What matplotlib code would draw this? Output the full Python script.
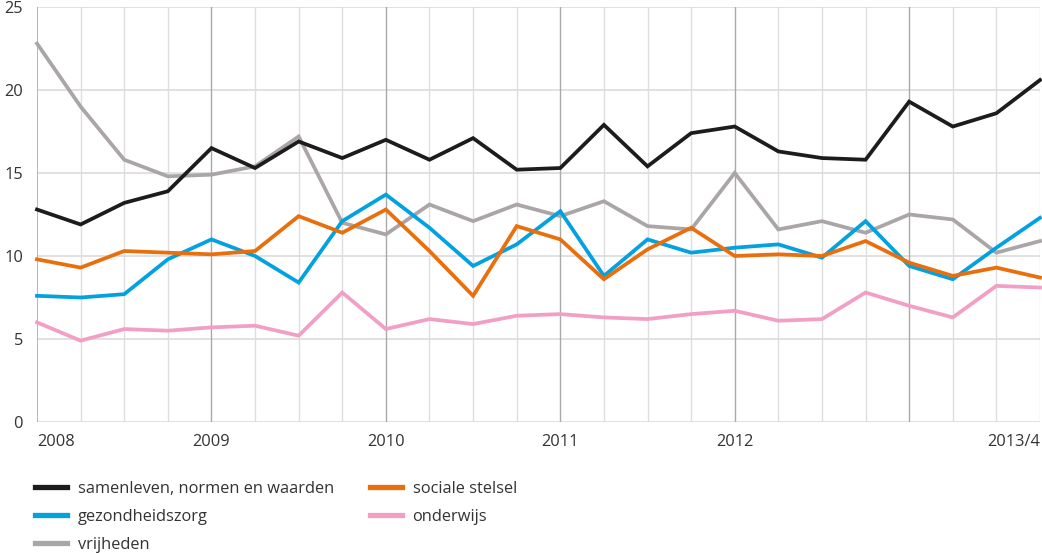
import matplotlib
matplotlib.use("Agg")
import matplotlib.pyplot as plt
from matplotlib.lines import Line2D

# Quarterly data 2008 Q1 .. 2013 Q4
quarters = list(range(24))
year_labels = ["2008", "2009", "2010", "2011", "2012", "2013/4"]
year_label_pos = [0, 4, 8, 12, 16, 23]
year_lines = [4, 8, 12, 16, 20]

samenleven = [12.8, 11.9, 13.2, 13.9, 16.5, 15.3, 16.9, 15.9, 17.0, 15.8, 17.1, 15.2,
              15.3, 17.9, 15.4, 17.4, 17.8, 16.3, 15.9, 15.8, 19.3, 17.8, 18.6, 20.6]
gezondheidszorg = [7.6, 7.5, 7.7, 9.8, 11.0, 10.0, 8.4, 12.1, 13.7, 11.7, 9.4, 10.7,
                   12.7, 8.8, 11.0, 10.2, 10.5, 10.7, 9.9, 12.1, 9.4, 8.6, 10.5, 12.3]
vrijheden = [22.8, 19.0, 15.8, 14.8, 14.9, 15.4, 17.2, 12.0, 11.3, 13.1, 12.1, 13.1,
             12.4, 13.3, 11.8, 11.6, 15.0, 11.6, 12.1, 11.4, 12.5, 12.2, 10.2, 10.9]
sociale_stelsel = [9.8, 9.3, 10.3, 10.2, 10.1, 10.3, 12.4, 11.4, 12.8, 10.3, 7.6, 11.8,
                   11.0, 8.6, 10.4, 11.7, 10.0, 10.1, 10.0, 10.9, 9.6, 8.8, 9.3, 8.7]
onderwijs = [6.0, 4.9, 5.6, 5.5, 5.7, 5.8, 5.2, 7.8, 5.6, 6.2, 5.9, 6.4,
             6.5, 6.3, 6.2, 6.5, 6.7, 6.1, 6.2, 7.8, 7.0, 6.3, 8.2, 8.1]

series = [
    ("samenleven, normen en waarden", samenleven, "#1c1c1c"),
    ("gezondheidszorg", gezondheidszorg, "#02a1df"),
    ("vrijheden", vrijheden, "#aaa5a7"),
    ("sociale stelsel", sociale_stelsel, "#e96e0c"),
    ("onderwijs", onderwijs, "#f29fc5"),
]
draw_order = [2, 4, 1, 3, 0]

plt.rcParams['font.family'] = ['Open Sans', 'DejaVu Sans']
text_color = "#333333"
fs = 11.8

fig = plt.figure(figsize=(10.42, 5.53), dpi=100)
ax = fig.add_axes([37/1042, 1 - 422/553, (1040 - 37)/1042, (422 - 7)/553])

# grid
for q in quarters:
    if q in year_lines:
        ax.axvline(q, color="#a9a9a9", lw=1.0, zorder=1)
    elif q == 0:
        ax.axvline(q, color="#a9a9a9", lw=1.2, zorder=1)
    else:
        ax.axvline(q, color="#dedede", lw=1.0, zorder=0)
for y in [0, 5, 10, 15, 20, 25]:
    ax.axhline(y, color="#dedede", lw=1.3, zorder=0)

for i in draw_order:
    name, vals, col = series[i]
    ax.plot(quarters, vals, color=col, lw=2.7, zorder=3, clip_on=False,
            solid_joinstyle="miter")

ax.set_xlim(0, 23)
ax.set_ylim(0, 25)
for s in ax.spines.values():
    s.set_visible(False)
ax.set_yticks([0, 5, 10, 15, 20, 25])
ax.tick_params(axis="y", length=0, pad=10, labelsize=fs, labelcolor=text_color)
ax.set_xticks([])

# x labels
trans = ax.get_xaxis_transform()
for lab, pos in zip(year_labels, year_label_pos):
    ha = "center"
    if pos == 0:
        ha = "left"
    elif pos == 23:
        ha = "right"
    ax.text(pos, -0.03, lab, transform=trans, ha=ha, va="top",
            fontsize=fs, color=text_color)

handles = [Line2D([0], [0], color=c, lw=3.8) for _, _, c in series]
labels = [n for n, _, _ in series]
fig.legend(handles, labels, loc="upper left", bbox_to_anchor=(35/1042, 1 - 481/553),
           ncol=2, frameon=False, fontsize=fs, handlelength=1.95, handletextpad=0.65,
           columnspacing=2.2, labelspacing=0.72, labelcolor=text_color,
           borderaxespad=0, borderpad=0)

fig.savefig("out.png", dpi=100)
